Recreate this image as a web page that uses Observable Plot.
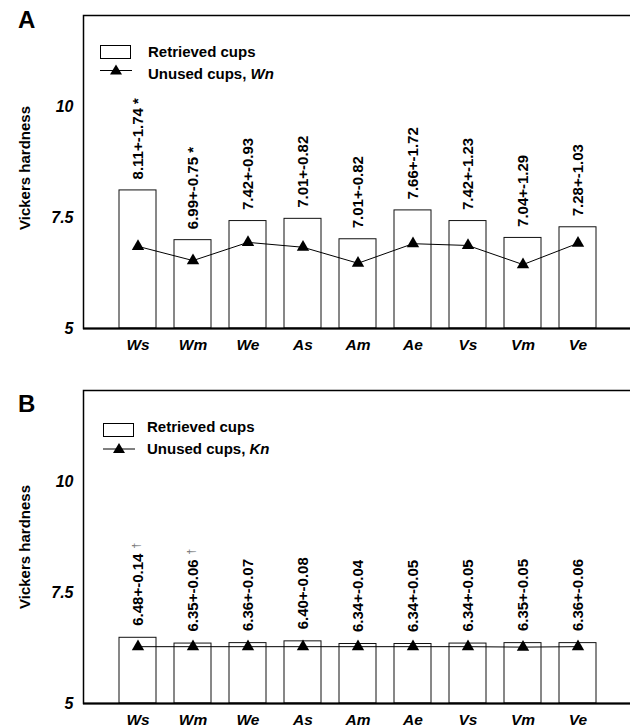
<!DOCTYPE html>
<html><head><meta charset="utf-8">
<script src="https://cdn.jsdelivr.net/npm/d3@7"></script>
<script src="https://cdn.jsdelivr.net/npm/@observablehq/plot@0.6"></script>
<style>
html,body{margin:0;padding:0;background:#fff;overflow:hidden}
#wrap{position:relative;width:630px;height:728px;overflow:hidden;font-family:"Liberation Sans",Arial,sans-serif}
.panel{position:absolute;left:0}
.letter{position:absolute;left:18px;font-weight:bold;font-size:24px;line-height:1}
#overlay{position:absolute;left:0;top:0}
</style></head><body><div id="wrap"></div><script>
// ---- data ----
const groups = ["Ws","Wm","We","As","Am","Ae","Vs","Vm","Ve"];
const retrievedA = [8.11, 6.99, 7.42, 7.47, 7.01, 7.66, 7.42, 7.04, 7.28];
const unusedA    = [6.85, 6.53, 6.94, 6.83, 6.47, 6.91, 6.87, 6.44, 6.92];
const labelsA    = ["8.11+-1.74 *","6.99+-0.75 *","7.42+-0.93","7.01+-0.82","7.01+-0.82","7.66+-1.72","7.42+-1.23","7.04+-1.29","7.28+-1.03"];
const retrievedB = [6.48, 6.35, 6.36, 6.40, 6.34, 6.34, 6.35, 6.36, 6.36];
const unusedB    = [6.28, 6.28, 6.28, 6.28, 6.28, 6.28, 6.28, 6.27, 6.28];
const labelsB    = ["6.48+-0.14","6.35+-0.06","6.36+-0.07","6.40+-0.08","6.34+-0.04","6.34+-0.05","6.34+-0.05","6.35+-0.05","6.36+-0.06"];
const marksB     = ["†","†","","","","","","",""];
const yTicks = [5, 7.5, 10];
const yDomain = [5, 12.05];
const yTitle = "Vickers hardness";
const legendBar = "Retrieved cups";
const legendLineA = ["Unused cups, ", "Wn"];
const legendLineB = ["Unused cups, ", "Kn"];

const FONT = "Liberation Sans, Arial, sans-serif";

function panel({bars, unused, labels, marks, labelDy, titleDy}) {
  const data = groups.map((g, i) => ({g, v: bars[i], u: unused[i], lab: labels[i], mk: marks ? marks[i] : ""}));
  const m = [
    Plot.barY(data, {x: "g", y1: yDomain[0], y2: "v", fill: "white", stroke: "#111", strokeWidth: 1}),
    Plot.line(data, {x: "g", y: "u", stroke: "black", strokeWidth: 1}),
    Plot.dot(data, {x: "g", y: "u", symbol: "triangle", r: 4.6, fill: "black", stroke: "none"}),
    Plot.text(data, {x: "g", y: "v", text: "lab", rotate: -90, textAnchor: "start", dy: labelDy, fontSize: 15, fontWeight: "bold", fill: "black"}),
    Plot.axisX({tickSize: 0, tickPadding: 10, fontSize: 15.5, fontWeight: "bold", fontStyle: "italic", label: null, fill: "black"}),
    Plot.axisY({ticks: yTicks, tickFormat: d => String(d), tickSize: 0, tickPadding: 10, fontSize: 16, fontWeight: "bold", fontStyle: "italic", label: null, fill: "black"}),
    Plot.frame({stroke: "black", strokeWidth: 1.5}),
    Plot.ruleY([yDomain[0]], {stroke: "black", strokeWidth: 2}),
    Plot.text([yTitle], {frameAnchor: "left", textAnchor: "middle", rotate: -90, dx: -58, dy: titleDy, fontSize: 15, fontWeight: "bold", fill: "black"})
  ];
  if (marks) m.push(Plot.text(data, {x: "g", y: "v", text: "mk", rotate: -90, textAnchor: "middle", dy: -92, dx: -2, fontSize: 11, fill: "#777"}));
  return Plot.plot({
    width: 630, height: 353,
    marginLeft: 83, marginRight: -2, marginTop: 15, marginBottom: 25,
    style: {fontFamily: FONT, color: "black", background: "transparent", overflow: "hidden"},
    x: {domain: groups, paddingInner: 0.335, paddingOuter: 0.65, axis: null},
    y: {domain: yDomain, axis: null},
    marks: m
  });
}

const wrap = document.getElementById("wrap");
const pA = panel({bars: retrievedA, unused: unusedA, labels: labelsA, labelDy: -11, titleDy: -4});
pA.classList.add("panel"); pA.style.top = "0px";
const pB = panel({bars: retrievedB, unused: unusedB, labels: labelsB, marks: marksB, labelDy: -12, titleDy: 0});
pB.classList.add("panel"); pB.style.top = "375px";
wrap.appendChild(pA); wrap.appendChild(pB);

// panel letters
for (const [t, top] of [["A", 8], ["B", 392]]) {
  const d = document.createElement("div");
  d.className = "letter"; d.textContent = t; d.style.top = top + "px";
  wrap.appendChild(d);
}

// legends (overlay svg)
const ns = "http://www.w3.org/2000/svg";
const ov = document.createElementNS(ns, "svg");
ov.setAttribute("id", "overlay"); ov.setAttribute("width", 630); ov.setAttribute("height", 728);
wrap.appendChild(ov);
function el(name, attrs, text) {
  const e = document.createElementNS(ns, name);
  for (const k in attrs) e.setAttribute(k, attrs[k]);
  if (text != null) e.textContent = text;
  ov.appendChild(e); return e;
}
function legend({x, rectTop, lineY, textX, base1, base2, parts}) {
  el("rect", {x: x + 0.5, y: rectTop + 0.5, width: 30, height: 13, fill: "white", stroke: "black", "stroke-width": 1});
  el("line", {x1: x, x2: x + 32, y1: lineY, y2: lineY, stroke: "black", "stroke-width": 1});
  const cx = x + 16;
  el("path", {d: `M${cx},${lineY - 6}L${cx + 6},${lineY + 4}L${cx - 6},${lineY + 4}Z`, fill: "black"});
  el("text", {x: textX, y: base1, "font-family": FONT, "font-size": 15, "font-weight": "bold"}, legendBar);
  const t = el("text", {x: textX, y: base2, "font-family": FONT, "font-size": 15, "font-weight": "bold"});
  const s1 = document.createElementNS(ns, "tspan"); s1.textContent = parts[0]; t.appendChild(s1);
  const s2 = document.createElementNS(ns, "tspan"); s2.setAttribute("font-style", "italic"); s2.textContent = parts[1]; t.appendChild(s2);
}
legend({x: 100, rectTop: 45, lineY: 70.5, textX: 148, base1: 57, base2: 79, parts: legendLineA});
legend({x: 103, rectTop: 423, lineY: 449, textX: 147, base1: 432, base2: 454, parts: legendLineB});
</script></body></html>
